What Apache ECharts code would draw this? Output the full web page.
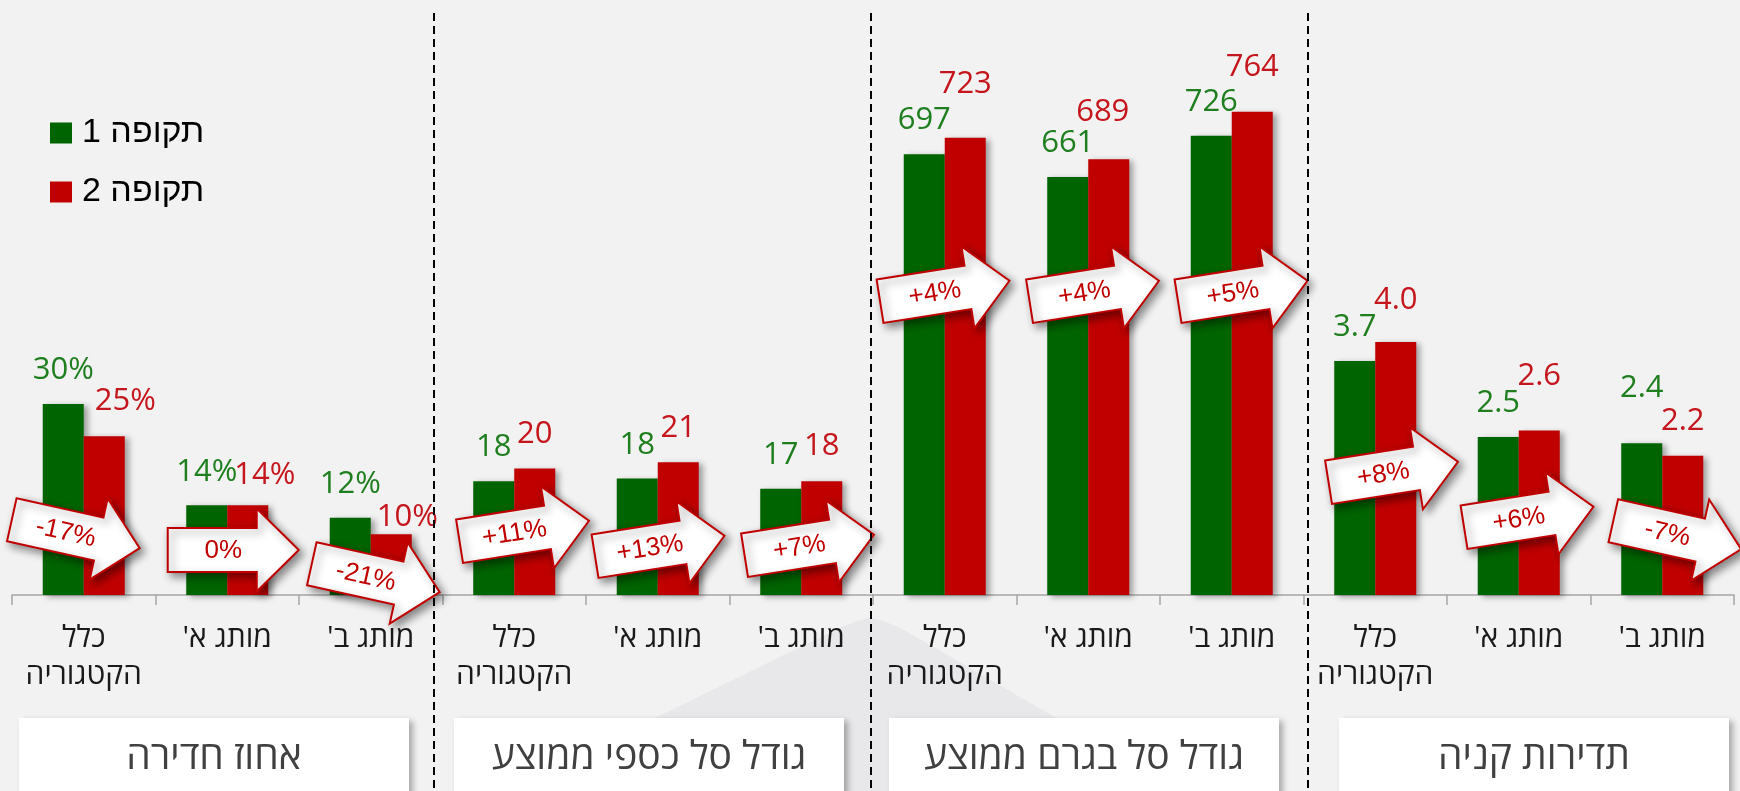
<!DOCTYPE html>
<html>
<head>
<meta charset="utf-8">
<script src="https://cdn.jsdelivr.net/npm/echarts@6/dist/echarts.min.js"></script>
<style>
  html, body { margin: 0; padding: 0; background: #f2f2f2; }
  #chart { width: 1740px; height: 791px; }
</style>
</head>
<body>
<div id="chart"></div>
<script>
// קטגוריות ותוויות
const categories = ['כלל\nהקטגוריה', "מותג א'\u200F", "מותג ב'\u200F"];
const panelTitles = ['אחוז חדירה', 'גודל סל כספי ממוצע', 'גודל סל בגרם ממוצע', 'תדירות קניה'];
const seriesNames = ['תקופה 1', 'תקופה 2'];

// ערכים לפי פאנל (תקופה 1 / תקופה 2)
const penetration1 = [30.2, 14.2, 12.2];
const penetration2 = [25.1, 14.2, 9.6];
const basketValue1 = [18, 18.4, 16.8];
const basketValue2 = [20, 21, 18];
const basketGrams1 = [697, 661, 726];
const basketGrams2 = [723, 689, 764];
const frequency1 = [3.7, 2.5, 2.4];
const frequency2 = [4.0, 2.6, 2.2];

// שינוי בין התקופות (טקסט החצים)
const changePenetration = ['-17%', '0%', '-21%'];
const changeBasketValue = ['+11%', '+13%', '+7%'];
const changeBasketGrams = ['+4%', '+4%', '+5%'];
const changeFrequency = ['+8%', '+6%', '-7%'];

const GREEN = '#006400', RED = '#c00000';
const GREEN_TXT = '#1f7f1f', RED_TXT = '#c4161c';
const FONT = "'Open Sans', 'Liberation Sans', sans-serif";

// layout
const AXIS_Y = 595, TOP = 89;
const PANEL_LEFT = 12, PANEL_W = 430.5;

const panels = [
  { p1: penetration1, p2: penetration2, change: changePenetration, max: 80, fmt: v => Math.round(v) + '%' },
  { p1: basketValue1, p2: basketValue2, change: changeBasketValue, max: 80, fmt: v => String(Math.round(v)) },
  { p1: basketGrams1, p2: basketGrams2, change: changeBasketGrams, max: 800, fmt: v => String(Math.round(v)) },
  { p1: frequency1, p2: frequency2, change: changeFrequency, max: 8, fmt: v => v.toFixed(1) }
];

// label nudges (px) - the labels were moved by hand in the original
const greenLabelLift = [[0, 0, 0], [0, 0, 0], [0, 0, 0], [0, 0, 22]];
const redLabelLift = [[2, -3, -16], [1, 1, 1], [20, 14, 11], [8, 21, 1]];
const redLabelShift = [[21, 17, 16], [0, 0, 0], [0, -6, 0], [0, 0, 0]];
// arrow placement: [dx from category centre, height above axis]
const arrowPlace = [
  [[-8, 61], [6, 45], [5, 17]],
  [[10, 64], [2, 49], [8, 50]],
  [[0, 304], [6, 304], [11, 304]],
  [[18, 123], [10, 78], [15, 60]]
];
const titleBoxX = [19, 454, 889, 1339];

var chart = echarts.init(document.getElementById('chart'));

var grids = [], xAxes = [], yAxes = [], series = [];

panels.forEach((pn, p) => {
  grids.push({ left: PANEL_LEFT + p * PANEL_W, width: PANEL_W, top: TOP, height: AXIS_Y - TOP });
  xAxes.push({
    type: 'category', gridIndex: p, data: categories,
    axisLine: { lineStyle: { color: '#a6a6a6', width: 1.5 } },
    axisTick: { show: true, length: 10, lineStyle: { color: '#a6a6a6', width: 1.5 } },
    axisLabel: { interval: 0, fontSize: 30, lineHeight: 37, color: '#1a1a1a', margin: 25, fontFamily: FONT }
  });
  yAxes.push({ type: 'value', gridIndex: p, min: 0, max: pn.max, show: false });

  const barStyle = { shadowBlur: 6, shadowColor: 'rgba(0,0,0,0.35)', shadowOffsetX: 4, shadowOffsetY: 2 };
  series.push({
    name: seriesNames[0], type: 'bar', xAxisIndex: p, yAxisIndex: p,
    barWidth: 41, barGap: '0%',
    itemStyle: Object.assign({ color: GREEN }, barStyle),
    label: { show: true, position: 'top', distance: 18, color: GREEN_TXT, fontSize: 31, fontFamily: FONT,
             formatter: prm => pn.fmt(prm.value) },
    data: pn.p1.map((v, i) => ({ value: v, label: { offset: [0, -greenLabelLift[p][i]] } }))
  });
  series.push({
    name: seriesNames[1], type: 'bar', xAxisIndex: p, yAxisIndex: p,
    barWidth: 41, barGap: '0%',
    itemStyle: Object.assign({ color: RED }, barStyle),
    label: { show: true, position: 'top', distance: 18, color: RED_TXT, fontSize: 31, fontFamily: FONT,
             formatter: prm => pn.fmt(prm.value) },
    data: pn.p2.map((v, i) => ({ value: v, label: { offset: [redLabelShift[p][i], -redLabelLift[p][i]] } }))
  });
  // change arrows
  series.push({
    type: 'custom', xAxisIndex: p, yAxisIndex: p, z: 5, clip: false, silent: true,
    data: pn.change.map((c, i) => [i, 0]),
    renderItem: (params, api) => {
      const i = params.dataIndex;
      const base = api.coord([api.value(0), 0]);
      const place = arrowPlace[p][i];
      const ch = parseFloat(pn.change[i]);
      const tilt = ch > 0 ? 9 : (ch < 0 ? -12.5 : 0);
      return {
        type: 'group', x: base[0] + place[0], y: base[1] - place[1], rotation: tilt * Math.PI / 180,
        children: [
          { type: 'polygon',
            shape: { points: [[-65.5, -22], [23.5, -22], [23.5, -41.5], [65.5, 0], [23.5, 41.5], [23.5, 22], [-65.5, 22]] },
            style: { fill: '#fff', stroke: RED, lineWidth: 2, shadowBlur: 8, shadowOffsetX: 4, shadowOffsetY: 4,
                     shadowColor: 'rgba(0,0,0,0.45)' } },
          { type: 'text',
            style: { text: pn.change[i], x: -10, y: 1, align: 'center', verticalAlign: 'middle', fill: RED,
                     font: "26px 'Liberation Sans', Arial, sans-serif" } }
        ]
      };
    }
  });
});

var graphics = [
  // faint hill in the background
  { type: 'polygon', z: -10, silent: true,
    shape: { points: [[498, 791], [657, 717], [840, 628], [870, 618], [900, 628], [1055, 717], [1193, 791]], smooth: 0.2 },
    style: { fill: '#e8e8ea' } }
];
[434, 871, 1308].forEach(x => graphics.push({
  type: 'line', z: 100, silent: true,
  shape: { x1: x, y1: 13, x2: x, y2: 791 },
  style: { stroke: '#000', lineWidth: 2, lineDash: [8, 5] }
}));
panelTitles.forEach((t, p) => {
  graphics.push({
    type: 'rect', z: 50, silent: true,
    shape: { x: titleBoxX[p], y: 718, width: 390, height: 90 },
    style: { fill: '#fff', shadowBlur: 6, shadowOffsetX: 4, shadowOffsetY: 3, shadowColor: 'rgba(0,0,0,0.3)' }
  });
  graphics.push({
    type: 'text', z: 51, silent: true,
    style: { text: t, x: titleBoxX[p] + 195, y: 758, align: 'center', verticalAlign: 'middle',
             fill: '#404040', font: "39px " + FONT }
  });
});

chart.setOption({
  backgroundColor: '#f2f2f2',
  animation: false,
  color: [GREEN, RED],
  legend: {
    data: seriesNames, orient: 'vertical', left: 50, top: 116, padding: 0,
    itemWidth: 22, itemHeight: 21, itemGap: 25, icon: 'rect',
    textStyle: { fontSize: 34, color: '#000', fontFamily: "'Liberation Sans', Arial, sans-serif", padding: [0, 0, 0, 5] }
  },
  grid: grids,
  xAxis: xAxes,
  yAxis: yAxes,
  series: series,
  graphic: graphics
});
</script>
</body>
</html>
